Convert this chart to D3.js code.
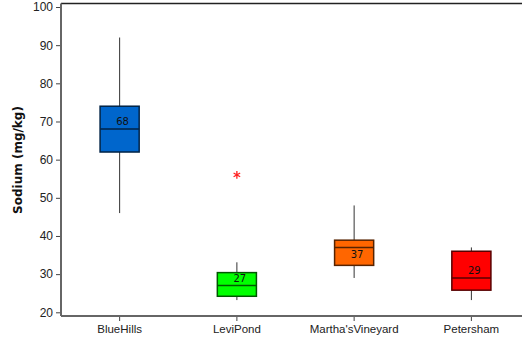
<!DOCTYPE html>
<html>
<head>
<meta charset="utf-8">
<script src="https://cdn.jsdelivr.net/npm/d3@7/dist/d3.min.js"></script>
<style>
  html, body { margin: 0; padding: 0; background: #fff; }
  svg { display: block; font-family: "DejaVu Sans", Verdana, sans-serif; }
</style>
</head>
<body>
<svg id="chart" width="522" height="340"></svg>
<script>
// Sodium concentration by site (mg/kg): box-plot summary statistics
const sites = ["BlueHills", "LeviPond", "Martha'sVineyard", "Petersham"];
const whiskerLow = [46, 23.2, 29, 23.2];
const q1 = [62, 24.2, 32.3, 25.8];
const median = [68, 27, 37, 29];
const q3 = [74, 30.4, 38.9, 36];
const whiskerHigh = [92, 33.1, 48, 37];
const boxColors = ["#0066cc", "#00ff00", "#ff6600", "#ff0000"];
const outlierSite = ["LeviPond"];
const outlierValue = [56];
const yTicks = [20, 30, 40, 50, 60, 70, 80, 90, 100];

const svg = d3.select("#chart");
const plotLeft = 61, plotTop = 3.5, plotBottom = 316;

const x = d3.scaleBand().domain(sites).range([plotLeft, 530]).paddingInner(0).paddingOuter(0);
const y = d3.scaleLinear().domain([20, 100]).range([312.3, 7]);

const boxW = x.bandwidth() / 3;
const cx = s => x(s) + x.bandwidth() / 2;

// plot frame: top border line
svg.append("line")
  .attr("x1", plotLeft).attr("x2", 522).attr("y1", plotTop).attr("y2", plotTop)
  .attr("stroke", "#222").attr("stroke-width", 1.5);

// y axis
const yAxis = svg.append("g").attr("transform", `translate(${plotLeft},0)`)
  .call(d3.axisLeft(y).tickValues(yTicks).tickSize(5).tickPadding(3));
yAxis.select(".domain").remove();
yAxis.selectAll(".tick line").attr("stroke", "#444");
yAxis.selectAll(".tick text").attr("font-size", 12).attr("fill", "#222");
svg.append("line")
  .attr("x1", plotLeft).attr("x2", plotLeft).attr("y1", plotTop).attr("y2", plotBottom)
  .attr("stroke", "#666").attr("stroke-width", 2);

// x axis
const xAxis = svg.append("g").attr("transform", `translate(0,${plotBottom})`)
  .call(d3.axisBottom(x).tickSize(5).tickPadding(4));
xAxis.select(".domain").remove();
xAxis.selectAll(".tick line").attr("stroke", "#444");
xAxis.selectAll(".tick text").attr("font-size", 11.5).attr("fill", "#222");
svg.append("line")
  .attr("x1", plotLeft).attr("x2", 522).attr("y1", plotBottom).attr("y2", plotBottom)
  .attr("stroke", "#666").attr("stroke-width", 2);

// y axis title
svg.append("text")
  .attr("transform", "translate(22,160) rotate(-90)")
  .attr("text-anchor", "middle")
  .attr("font-size", 12).attr("font-weight", "bold").attr("fill", "#111")
  .text("Sodium (mg/kg)");

// boxes
const rows = sites.map((s, i) => ({
  site: s, lo: whiskerLow[i], q1: q1[i], med: median[i], q3: q3[i], hi: whiskerHigh[i], color: boxColors[i]
}));

const g = svg.append("g").selectAll("g").data(rows).join("g");

g.append("line")
  .attr("x1", d => cx(d.site)).attr("x2", d => cx(d.site))
  .attr("y1", d => y(d.hi)).attr("y2", d => y(d.lo))
  .attr("stroke", "#333").attr("stroke-width", 1);

g.append("rect")
  .attr("x", d => cx(d.site) - boxW / 2)
  .attr("width", boxW)
  .attr("y", d => y(d.q3))
  .attr("height", d => y(d.q1) - y(d.q3))
  .attr("fill", d => d.color)
  .attr("stroke", d => d3.color(d.color).darker(3).formatHex())
  .attr("stroke-width", 1.5);

g.append("line")
  .attr("x1", d => cx(d.site) - boxW / 2).attr("x2", d => cx(d.site) + boxW / 2)
  .attr("y1", d => y(d.med)).attr("y2", d => y(d.med))
  .attr("stroke", d => d3.color(d.color).darker(3).formatHex())
  .attr("stroke-width", 1.5);

// median labels: above the median line when there is room, otherwise below
g.append("text")
  .attr("x", d => cx(d.site) + 3)
  .attr("y", d => (y(d.med) - y(d.q3) > 12) ? y(d.med) - 4 : y(d.med) + 11)
  .attr("text-anchor", "middle")
  .attr("font-size", 10).attr("fill", "#111")
  .text(d => d3.format("d")(d.med));

// outliers
svg.append("g").selectAll("path")
  .data(outlierSite.map((s, i) => ({ site: s, v: outlierValue[i] })))
  .join("path")
  .attr("transform", d => `translate(${cx(d.site)},${y(d.v)})`)
  .attr("d", d3.symbol(d3.symbolAsterisk, 40))
  .attr("fill", "none").attr("stroke", "#ff2020").attr("stroke-width", 1.3);
</script>
</body>
</html>
